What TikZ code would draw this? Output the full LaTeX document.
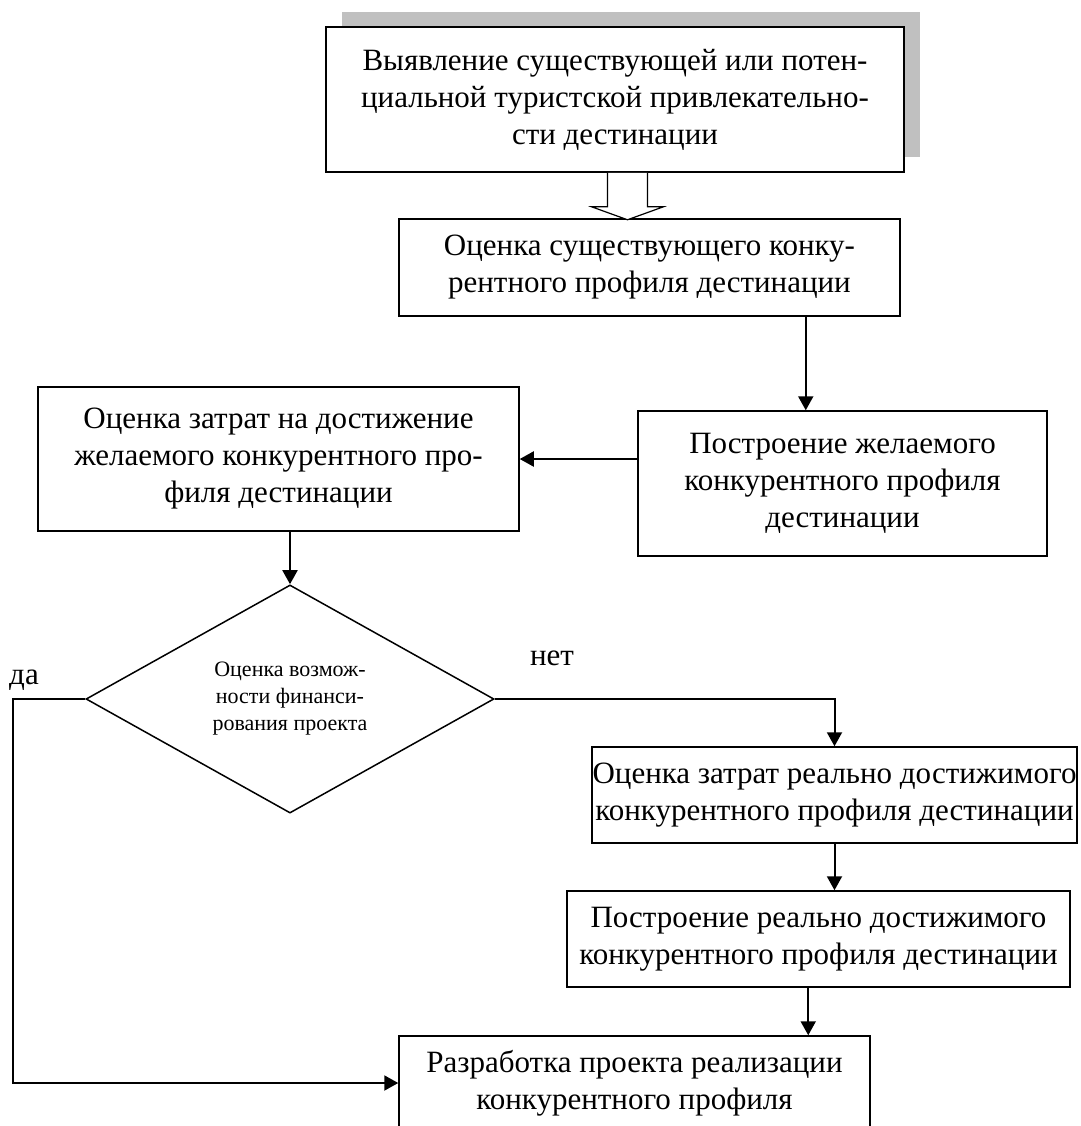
\documentclass[tikz,border=0pt]{standalone}
\usepackage{fontspec}
\setmainfont{Liberation Serif}
\usetikzlibrary{arrows.meta, calc, shapes.geometric}
\definecolor{tenj}{RGB}{192,192,192}
\tikzset{
  blok/.style={draw, line width=0.75pt, fill=white, align=center, inner sep=0pt,
    font=\fontsize{15.5}{18.5}\selectfont},
  romb/.style={draw, diamond, line width=0.75pt, align=center, inner sep=0pt,
    font=\fontsize{11}{13.5}\selectfont},
  pil/.style={-{Triangle[width=7.5pt,length=7pt]}, line width=1pt},
  polaja/.style={draw, fill=white, line width=0.6pt},
  metka/.style={font=\fontsize{15.5}{18.5}\selectfont},
}

\begin{document}
\begin{tikzpicture}[x=0.5pt, y=-0.5pt]
\useasboundingbox (0,0) rectangle (1081,1126);
% shadow of the first box
\fill[tenj] (342,12) rectangle (920,157);
\node[blok, minimum width=289pt, minimum height=72.5pt] (vyjav) at (615,99.5)
  {Выявление существующей или потен-\\циальной туристской привлекательно-\\сти дестинации};
\node[blok, minimum width=250.5pt, minimum height=48.5pt] (ocenka) at (649.5,267.5)
  {Оценка существующего конку-\\рентного профиля дестинации};
\node[blok, minimum width=204.5pt, minimum height=72.5pt] (postr) at (842.5,483.5)
  {Построение желаемого\\конкурентного профиля\\дестинации};
\node[blok, minimum width=240.5pt, minimum height=72pt] (zatr) at (278.5,459)
  {Оценка затрат на достижение\\желаемого конкурентного про-\\филя дестинации};
\node[romb, minimum width=204pt, minimum height=96pt] (finans) at (290,699)
  {Оценка возмож-\\ности финанси-\\рования проекта};
\node[blok, minimum width=242.5pt, minimum height=48pt] (realn) at (834.5,795)
  {Оценка затрат реально достижимого\\конкурентного профиля дестинации};
\node[blok, minimum width=251.5pt, minimum height=48pt] (rpostr) at (818.5,939)
  {Построение реально достижимого\\конкурентного профиля дестинации};
\node[blok, minimum width=235.5pt, minimum height=47pt] (razrab) at (634.5,1083)
  {Разработка проекта реализации\\конкурентного профиля};
\node[metka] (da) at (24,680) {да};
\node[metka] (net) at (552,658) {нет};

% hollow arrow
\coordinate (hx) at (627,0);
\draw[polaja] (hx |- vyjav.south) ++(-19.5,0) -- ++(0,34) -- ++(-16,0)
  -- ++(36,13) -- ++(36,-13) -- ++(-16,0) -- ++(0,-34);

\draw[pil] ($(ocenka.south east)+(-95,0)$) coordinate (a1) -- (a1 |- postr.north);
\draw[pil] (postr.west |- zatr.east) -- (zatr.east);
\draw[pil] (zatr.south -| finans.north) -- (finans.north);
\draw[pil] (finans.west) -- ++(-72,0) |- (razrab.west);
\draw[pil] (finans.east) -| (realn.north);
\draw[pil] (realn.south) -- (realn.south |- rpostr.north);
\draw[pil] ($(rpostr.south west)+(242,0)$) coordinate (a2) -- (a2 |- razrab.north);
\end{tikzpicture}
\end{document}
